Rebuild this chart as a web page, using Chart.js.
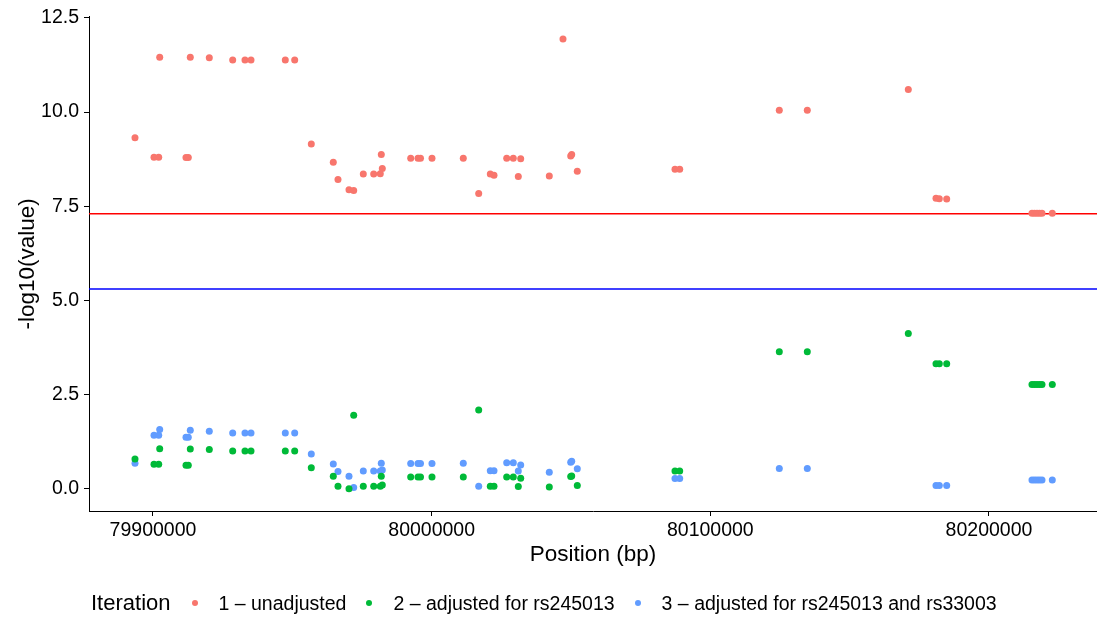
<!DOCTYPE html>
<html>
<head>
<meta charset="utf-8">
<script src="https://cdn.jsdelivr.net/npm/chart.js@4"></script>
<style>
  body { margin: 0; background: #fff; font-family: "Liberation Sans", Arial, Helvetica, sans-serif; }
  #wrap { position: relative; width: 1097px; height: 619px; }
  #legend { position: absolute; left: 91px; top: 603px; transform: translateY(-50%);
            display: flex; align-items: center; color: #000; font-size: 19.5px; white-space: nowrap; }
  #legend .title { font-size: 22px; margin-right: 21px; }
  #legend .dot { width: 6px; height: 6px; border-radius: 50%; margin-right: 21px; }
  #legend .lab { margin-right: 20px; }
</style>
</head>
<body>
<div id="wrap">
  <canvas id="chart" width="1097" height="619"></canvas>
  <div id="legend"></div>
</div>
<script>
// SNP positions (bp)
const positions = [
  79893541, 79900359, 79902045, 79902404, 79911842, 79912667, 79913385, 79920203,
  79928600, 79933014, 79935167, 79947476, 79950849, 79956806, 79964700, 79966387,
  79970334, 79972021, 79975466, 79979198, 79981566, 79981925, 79982284, 79992476,
  79995095, 79995992, 80000119, 80011351, 80016877, 80021040, 80022368, 80026925,
  80029294, 80031088, 80031949, 80042212, 80047129, 80049893, 80050251, 80052261,
  80087320, 80089007, 80124750, 80134798, 80171040, 80180980, 80182164, 80184820,
  80215428, 80216325, 80217222, 80218119, 80219017, 80222715
];

// -log10(p) per iteration (null = SNP conditioned on, not tested)
const unadjusted = [
  9.32, 8.80, 8.80, 11.455, 8.79, 8.79, 11.455, 11.44,
  11.38, 11.38, 11.38, 11.38, 11.38, 9.15, 8.67, 8.21,
  7.94, 7.92, 8.355, 8.355, 8.36, 8.87, 8.50, 8.77,
  8.77, 8.77, 8.77, 8.77, 7.84, 8.355, 8.32, 8.77,
  8.77, 8.29, 8.76, 8.30, 11.94, 8.83, 8.87, 8.43,
  8.48, 8.48, 10.05, 10.045, 10.60, 7.71, 7.70, 7.69,
  7.31, 7.31, 7.31, 7.31, 7.31, 7.31
];
const adjRs245013 = [
  0.79, 0.65, 0.65, 1.065, 0.625, 0.625, 1.056, 1.04,
  1.00, 1.00, 1.00, 1.00, 1.00, 0.56, 0.335, 0.07,
  0.00, 1.95, 0.07, 0.07, 0.07, 0.335, 0.10, 0.31,
  0.31, 0.31, 0.31, 0.31, 2.09, 0.07, 0.07, 0.31,
  0.31, 0.06, 0.28, 0.045, null, 0.325, 0.34, 0.09,
  0.47, 0.47, 3.64, 3.64, 4.12, 3.32, 3.32, 3.32,
  2.77, 2.77, 2.77, 2.77, 2.77, 2.77
];
const adjRs245013Rs33003 = [
  0.68, 1.42, 1.42, 1.57, 1.37, 1.37, 1.55, 1.53,
  1.48, 1.48, 1.48, 1.48, 1.48, 0.92, 0.66, 0.46,
  0.335, 0.035, 0.47, 0.47, 0.47, 0.68, 0.50, 0.67,
  0.67, 0.67, 0.67, 0.68, 0.07, 0.48, 0.48, 0.69,
  0.69, 0.475, 0.63, 0.44, null, 0.705, 0.73, 0.53,
  0.27, 0.27, 0.54, 0.54, null, 0.09, 0.09, 0.09,
  0.23, 0.23, 0.23, 0.23, 0.23, 0.23
];

const seriesLabels = ['1 \u2013 unadjusted', '2 \u2013 adjusted for rs245013', '3 \u2013 adjusted for rs245013 and rs33003'];
const seriesColors = ['#F8766D', '#00BA38', '#619CFF'];

const xTicks = [79900000, 80000000, 80100000, 80200000];
const yTicks = [0, 2.5, 5, 7.5, 10, 12.5];

// genome-wide (5e-8) and suggestive (5e-6) lines
const thresholds = [7.3, 5.3];
const thresholdColors = ['#FF0000', '#0000FF'];

const FONT = '"Liberation Sans", Arial, Helvetica, sans-serif';

const toPoints = vals => positions
  .map((x, i) => ({ x, y: vals[i] }))
  .filter(p => p.y !== null);

const thresholdLines = {
  id: 'thresholdLines',
  beforeDatasetsDraw(chart) {
    const { ctx, chartArea, scales } = chart;
    thresholds.forEach((t, i) => {
      const y = scales.y.getPixelForValue(t);
      ctx.save();
      ctx.strokeStyle = thresholdColors[i];
      ctx.lineWidth = 1.5;
      ctx.beginPath();
      ctx.moveTo(chartArea.left, y);
      ctx.lineTo(chartArea.right, y);
      ctx.stroke();
      ctx.restore();
    });
  }
};

const axisCommon = {
  grid: { drawOnChartArea: false, drawTicks: true, tickLength: 5, tickColor: '#000', tickWidth: 1 },
  border: { color: '#000', width: 1 },
};

new Chart(document.getElementById('chart'), {
  type: 'scatter',
  data: {
    datasets: [unadjusted, adjRs245013, adjRs245013Rs33003].map((vals, i) => ({
      label: seriesLabels[i],
      data: toPoints(vals),
      backgroundColor: seriesColors[i],
      borderWidth: 0,
      pointRadius: 3.5,
      pointHoverRadius: 3.5,
    })),
  },
  options: {
    responsive: false,
    animation: false,
    layout: { autoPadding: false, padding: { top: 15, right: 0, bottom: 0, left: 0 } },
    plugins: { legend: { display: false }, tooltip: { enabled: false } },
    scales: {
      x: {
        ...axisCommon,
        type: 'linear',
        min: 79877034,
        max: 80238756,
        afterBuildTicks: s => { s.ticks = xTicks.map(v => ({ value: v })); },
        // fixed box, no extra edge padding for labels
        afterFit: s => { s.height = 108; s.paddingLeft = 0; s.paddingRight = 0; },
        ticks: { color: '#000', font: { family: FONT, size: 19.5 }, padding: 3,
                 maxRotation: 0, autoSkip: false, callback: v => String(v) },
        title: { display: true, text: 'Position (bp)', color: '#000',
                 font: { family: FONT, size: 22.5 }, padding: { top: 0, bottom: 51 } },
      },
      y: {
        ...axisCommon,
        min: -0.59,
        max: 12.53,
        afterBuildTicks: s => { s.ticks = yTicks.map(v => ({ value: v })); },
        afterFit: s => { s.width = 89; },
        ticks: { color: '#000', font: { family: FONT, size: 19.5 }, padding: 5,
                 callback: v => v.toFixed(1) },
        title: { display: true, text: '-log10(value)', color: '#000',
                 font: { family: FONT, size: 22.5 }, padding: { top: 14, bottom: 0 } },
      },
    },
  },
  plugins: [thresholdLines],
});

// legend, drawn as html under the canvas
const legend = document.getElementById('legend');
legend.innerHTML = '<span class="title">Iteration</span>' + seriesLabels.map((lab, i) =>
  `<span class="dot" style="background:${seriesColors[i]}"></span><span class="lab">${lab}</span>`
).join('');
</script>
</body>
</html>
